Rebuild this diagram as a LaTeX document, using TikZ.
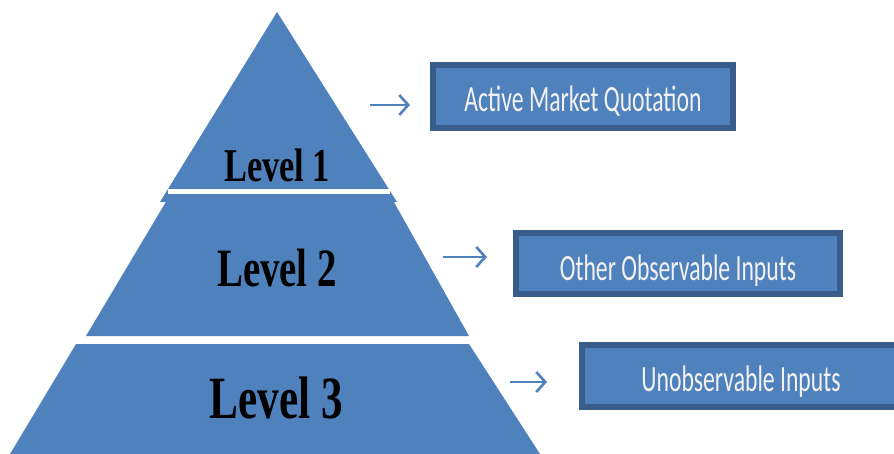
\documentclass[tikz,border=0pt]{standalone}
\usepackage{fontspec}
\setmainfont{Liberation Serif}
\newfontfamily\boxfont{Carlito}
\usetikzlibrary{arrows.meta}
\definecolor{pfill}{HTML}{4F81BD}
\definecolor{pborder}{HTML}{385D8A}
\definecolor{ptext}{HTML}{F2F2F2}
\tikzset{
  tier/.style={fill=pfill, draw=none},
  lvl/.style={anchor=base, inner sep=0pt, font=\bfseries},
  infobox/.style={fill=pfill, draw=pborder, line width=6pt},
  boxlabel/.style={anchor=base, inner sep=0pt, text=ptext},
  pointer/.style={draw=pfill, line width=2.6pt, -{Straight Barb[length=9pt,width=20pt,line width=2.6pt]}}
}
\begin{document}
\begin{tikzpicture}[x=1pt,y=-1pt]
\useasboundingbox (0,0) rectangle (894,454);
% pyramid
\fill[tier] (277,12) -- (397,202) -- (160,202) -- cycle;
\fill[tier] (170,195) -- (390,195) -- (469,336) -- (86,336) -- cycle;
\draw[white, line width=5pt] (168,192) -- (390,192);
\fill[tier] (76,344) -- (469,344) -- (540,454) -- (10,454) -- cycle;
\node[lvl] (l1) at (277,182) {\fontsize{47}{47}\selectfont\scalebox{0.73}[1]{Level 1}};
\node[lvl] (l2) at (277,287) {\fontsize{54}{54}\selectfont\scalebox{0.72}[1]{Level 2}};
\node[lvl] (l3) at (276,418) {\fontsize{60}{60}\selectfont\scalebox{0.72}[1]{Level 3}};
% boxes
\draw[infobox] (433,65) rectangle (733,128);
\draw[infobox] (516,233) rectangle (840,294);
\draw[infobox] (582,345) rectangle (904,407);
\node[boxlabel] (b1) at (583,112) {\boxfont\fontsize{37}{37}\selectfont\scalebox{0.64}[1]{Active Market Quotation}};
\node[boxlabel] (b2) at (678,280) {\boxfont\fontsize{37}{37}\selectfont\scalebox{0.64}[1]{Other Observable Inputs}};
\node[boxlabel] (b3) at (741,391) {\boxfont\fontsize{37}{37}\selectfont\scalebox{0.64}[1]{Unobservable Inputs}};
% arrows
\coordinate (a1s) at (370,105); \coordinate (a1e) at (410,105);
\coordinate (a2s) at (443,257); \coordinate (a2e) at (487,257);
\coordinate (a3s) at (510,382); \coordinate (a3e) at (547,382);
\draw[pointer] (a1s) -- (a1e);
\draw[pointer] (a2s) -- (a2e);
\draw[pointer] (a3s) -- (a3e);
\end{tikzpicture}
\end{document}
